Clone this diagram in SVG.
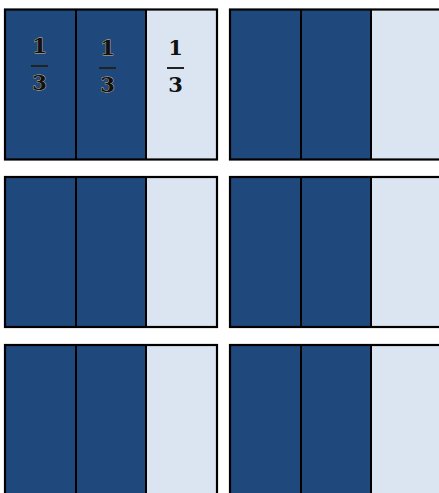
<svg xmlns="http://www.w3.org/2000/svg" width="439" height="493" viewBox="0 0 439 493">
<style>
.d{fill:#1F497D}
.l{fill:#DBE5F1}
.b{fill:none;stroke:#000;stroke-width:2.2}
.v{stroke:#000;stroke-width:2}
.t{font-family:"DejaVu Serif",serif;font-weight:bold;font-size:21px;text-anchor:middle;fill:#111}
.td{paint-order:stroke;stroke:#d8b98c;stroke-width:0.8}
.bar{stroke:#222;stroke-width:2}
</style>
<defs>
<g id="bar3">
<rect class="d" x="0" y="0" width="71" height="150"/>
<rect class="d" x="71" y="0" width="70" height="150"/>
<rect class="l" x="141" y="0" width="71" height="150"/>
<rect class="b" x="0" y="0" width="212" height="150"/>
<line class="v" x1="71" y1="0" x2="71" y2="150"/>
<line class="v" x1="141" y1="0" x2="141" y2="150"/>
</g>
</defs>
<g id="bar-r1-left"><use href="#bar3" x="5" y="9.5"/>
<text class="t td" x="39.5" y="53">1</text><line class="bar" x1="31" y1="66" x2="48" y2="66"/><text class="t td" x="39.5" y="90">3</text>
<text class="t td" x="107.5" y="55">1</text><line class="bar" x1="99" y1="68" x2="116" y2="68"/><text class="t td" x="107.5" y="92">3</text>
<text class="t" x="175.5" y="55">1</text><line class="bar" x1="167" y1="68" x2="184" y2="68"/><text class="t" x="175.5" y="92">3</text>
</g>
<g id="bar-r1-right"><use href="#bar3" x="230" y="9.5"/></g>
<g id="bar-r2-left"><use href="#bar3" x="5" y="177"/></g>
<g id="bar-r2-right"><use href="#bar3" x="230" y="177"/></g>
<g id="bar-r3-left"><use href="#bar3" x="5" y="345"/></g>
<g id="bar-r3-right"><use href="#bar3" x="230" y="345"/></g>
<g id="connectors"/>
</svg>
